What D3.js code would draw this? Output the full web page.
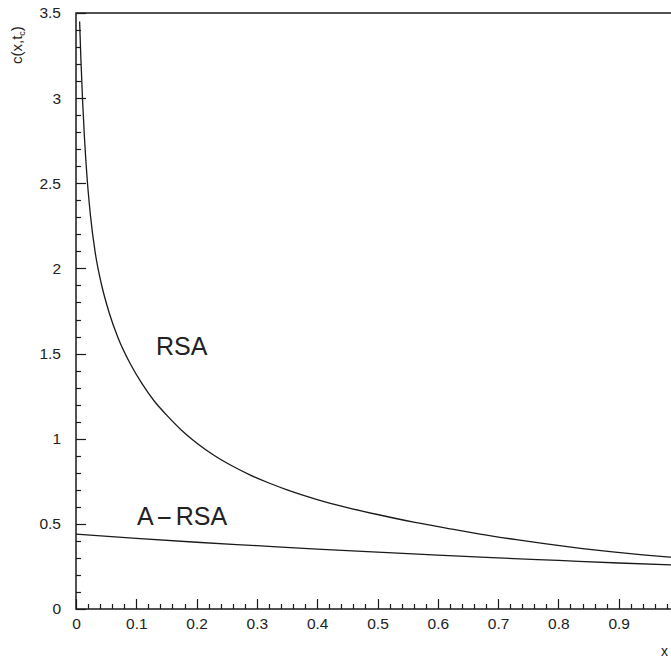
<!DOCTYPE html>
<html>
<head>
<meta charset="utf-8">
<script src="https://cdn.jsdelivr.net/npm/d3@7"></script>
<style>
  html, body { margin: 0; padding: 0; background: #fff; }
  svg { display: block; }
  text { font-family: "Liberation Sans", Arial, sans-serif; fill: #222; }
</style>
</head>
<body>
<svg id="chart" width="671" height="661"></svg>
<script>
// ---- data ----
const rsaX  = [0.006, 0.008, 0.011, 0.014, 0.018, 0.024, 0.032, 0.042, 0.055, 0.07, 0.09, 0.11, 0.13, 0.15, 0.175, 0.2, 0.23, 0.26, 0.29, 0.32, 0.35, 0.4, 0.45, 0.5, 0.56, 0.62, 0.67, 0.73, 0.78, 0.84, 0.89, 0.94, 0.985, 1.0];
const rsaY  = [3.45, 3.24, 2.98, 2.77, 2.55, 2.31, 2.09, 1.91, 1.74, 1.59, 1.44, 1.32, 1.22, 1.14, 1.05, 0.975, 0.90, 0.838, 0.785, 0.740, 0.700, 0.643, 0.596, 0.555, 0.510, 0.471, 0.440, 0.407, 0.382, 0.355, 0.335, 0.318, 0.305, 0.301];
const arsaX = [0, 0.1, 0.2, 0.3, 0.4, 0.5, 0.6, 0.7, 0.8, 0.9, 1.0];
const arsaY = [0.44, 0.415, 0.392, 0.372, 0.352, 0.334, 0.316, 0.300, 0.285, 0.270, 0.257];
const xTicks = [0, 0.1, 0.2, 0.3, 0.4, 0.5, 0.6, 0.7, 0.8, 0.9];
const xTickLabels = ["0", "0.1", "0.2", "0.3", "0.4", "0.5", "0.6", "0.7", "0.8", "0.9"];
const yTicks = [0, 0.5, 1, 1.5, 2, 2.5, 3, 3.5];
const yTickLabels = ["0", "0.5", "1", "1.5", "2", "2.5", "3", "3.5"];
const seriesLabels = ["RSA", "A-RSA"];

// ---- layout ----
const svg = d3.select("#chart");
const x = d3.scaleLinear().domain([0, 1]).range([76, 679]);
const y = d3.scaleLinear().domain([0, 3.5]).range([609, 13]);
const ink = "#1a1a1a";

// frame
svg.append("rect")
  .attr("x", x(0)).attr("y", y(3.5))
  .attr("width", x(1) - x(0)).attr("height", y(0) - y(3.5))
  .attr("fill", "none").attr("stroke", ink).attr("stroke-width", 1.5);

// tick marks (drawn as explicit lines from the scales)
const xMinor = d3.range(0, 50).map(i => i * 0.02).filter((v, i) => i % 5 !== 0);
const yMinor = d3.range(0, 35).map(i => i * 0.1).filter((v, i) => i % 5 !== 0);
const tg = svg.append("g").attr("stroke", ink).attr("stroke-width", 1.2);
tg.selectAll(".xmin").data(xMinor).join("line")
  .attr("x1", d => Math.round(x(d)) + 0.5).attr("x2", d => Math.round(x(d)) + 0.5)
  .attr("y1", y(0)).attr("y2", y(0) - 5);
tg.selectAll(".xmaj").data(xTicks).join("line")
  .attr("x1", d => Math.round(x(d)) + 0.5).attr("x2", d => Math.round(x(d)) + 0.5)
  .attr("y1", y(0)).attr("y2", y(0) - 10);
tg.selectAll(".ymin").data(yMinor).join("line")
  .attr("y1", d => Math.round(y(d)) + 0.5).attr("y2", d => Math.round(y(d)) + 0.5)
  .attr("x1", x(0)).attr("x2", x(0) + 5);
tg.selectAll(".ymaj").data(yTicks).join("line")
  .attr("y1", d => Math.round(y(d)) + 0.5).attr("y2", d => Math.round(y(d)) + 0.5)
  .attr("x1", x(0)).attr("x2", x(0) + 10);

// axis labels via d3 axes (lines hidden, drawn above)
svg.append("g").attr("transform", `translate(0,${y(0)})`)
  .call(d3.axisBottom(x).tickValues(xTicks).tickSize(0).tickPadding(9)
        .tickFormat((d, i) => xTickLabels[i]))
  .call(g => g.select(".domain").remove())
  .call(g => g.selectAll("text").attr("font-size", 15.5).attr("font-family", "Liberation Sans, Arial, sans-serif").attr("fill", "#222"));

svg.append("g").attr("transform", `translate(${x(0)},0)`)
  .call(d3.axisLeft(y).tickValues(yTicks).tickSize(0).tickPadding(15)
        .tickFormat((d, i) => yTickLabels[i]))
  .call(g => g.select(".domain").remove())
  .call(g => g.selectAll("text").attr("font-size", 15.5).attr("font-family", "Liberation Sans, Arial, sans-serif").attr("fill", "#222"));

// curves
const line = d3.line().x(d => x(d[0])).y(d => y(d[1])).curve(d3.curveMonotoneX);
svg.append("path")
  .datum(rsaX.map((v, i) => [v, rsaY[i]]))
  .attr("d", line).attr("fill", "none").attr("stroke", ink).attr("stroke-width", 1.3);
svg.append("path")
  .datum(arsaX.map((v, i) => [v, arsaY[i]]))
  .attr("d", line).attr("fill", "none").attr("stroke", ink).attr("stroke-width", 1.3);

// series labels
svg.append("text").attr("x", 156).attr("y", 355)
  .attr("font-size", 25).attr("fill", "#2a2a2a").text(seriesLabels[0]);
const t2 = svg.append("text").attr("x", 137).attr("y", 525).attr("font-size", 25).attr("fill", "#2a2a2a");
t2.append("tspan").text(seriesLabels[1].slice(0, 1));
t2.append("tspan").attr("dx", 2).attr("textLength", 17).attr("lengthAdjust", "spacingAndGlyphs").text(seriesLabels[1].slice(1, 2));
t2.append("tspan").attr("dx", 3).text(seriesLabels[1].slice(2));

// axis titles
const yt = svg.append("text")
  .attr("transform", "translate(22,64) rotate(-90)")
  .attr("font-size", 15).attr("fill", "#222");
yt.append("tspan").text("c(x,t");
yt.append("tspan").attr("font-size", 9).attr("dy", 3).text("c");
yt.append("tspan").attr("dy", -3).text(")");

svg.append("text").attr("x", 661).attr("y", 656)
  .attr("font-size", 14).attr("fill", "#222").text("x");
</script>
</body>
</html>
